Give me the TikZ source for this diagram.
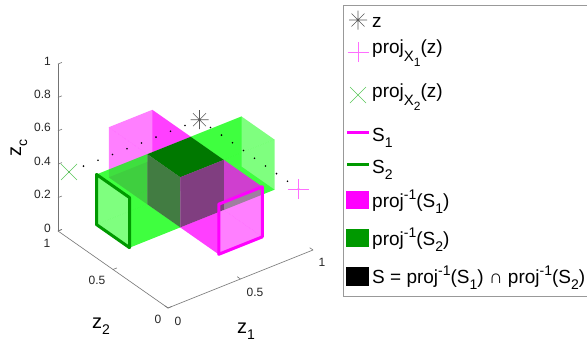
\documentclass[tikz,border=0pt]{standalone}
\usepackage{fontspec}
\setmainfont{Liberation Sans}
\definecolor{mag}{RGB}{255,0,255}
\definecolor{grn}{RGB}{0,255,0}
\definecolor{dgrn}{RGB}{0,153,0}
\definecolor{stop}{RGB}{0,120,0}
\definecolor{sleft}{RGB}{66,124,66}
\definecolor{sright}{RGB}{128,62,128}
\definecolor{xgrn}{RGB}{90,200,90}
\definecolor{pmag}{RGB}{255,110,255}
\newcommand{\mysub}[1]{\raisebox{-6pt}{\fontsize{14}{14}\selectfont #1}}
\newcommand{\mysubx}[1]{\raisebox{-8pt}{\fontsize{15}{15}\selectfont #1}}
\newcommand{\mysubsub}[1]{\raisebox{-5pt}{\fontsize{12}{12}\selectfont #1}}
\newcommand{\mysup}[1]{\raisebox{8pt}{\fontsize{14}{14}\selectfont #1}}
\newcommand{\axsub}[1]{\raisebox{-6pt}{\fontsize{14}{14}\selectfont #1}}
\begin{document}
\begin{tikzpicture}[x=1pt,y=-1pt,
  ticklab/.style={font=\fontsize{12}{14}\selectfont, text=black!85, inner sep=0pt},
  leglab/.style={font=\fontsize{19}{22}\selectfont, anchor=base west, inner sep=0pt},
  axlab/.style={font=\fontsize{20}{22}\selectfont, inner sep=0pt, anchor=base west},
  axline/.style={draw=black!55, line width=0.6pt},
  pf/.style={fill=mag, fill opacity=0.5},
  gf/.style={fill=grn, fill opacity=0.5},
  dotm/.style={fill=black},
  starm/.style={draw=black!65, line width=0.6pt},
  plusm/.style={draw=pmag, line width=0.7pt},
  crossm/.style={draw=xgrn, line width=0.5pt},
]
\useasboundingbox[fill=white] (0,0) rectangle (587,341);

\begin{scope}[shift={(168,308)}, x={(145pt,58pt)}, y={(-110pt,77pt)}, z={(0pt,167pt)}]
  % axes
  \draw[axline] (0,1,0) -- (0,1,1);
  \draw[axline] (0,0,0) -- (0,1,0);
  \draw[axline] (0,0,0) -- (1,0,0);
  \foreach \t in {0,0.2,0.4,0.6,0.8,1} \draw[axline] (0,1,\t) -- (0.027,1,\t);
  \foreach \t in {0,0.5,1} \draw[axline] (0,\t,0) -- (0.027,\t,0);
  \foreach \t in {0,0.5,1} \draw[axline] (\t,0,0) -- (\t,0.03,0);
  % faces, back to front
  \fill[pf] (.65,.65,.2) -- (.65,1,.2) -- (.65,1,.5) -- (.65,.65,.5) -- cycle;
  \fill[pf] (.35,.65,.2) -- (.65,.65,.2) -- (.65,1,.2) -- (.35,1,.2) -- cycle;
  \fill[gf] (.65,.65,.2) -- (1,.65,.2) -- (1,.65,.5) -- (.65,.65,.5) -- cycle;
  \fill[gf] (.65,.35,.2) -- (1,.35,.2) -- (1,.65,.2) -- (.65,.65,.2) -- cycle;
  \fill[pf] (.35,.65,.5) -- (.65,.65,.5) -- (.65,1,.5) -- (.35,1,.5) -- cycle;
  \fill[pf] (.35,.65,.2) -- (.35,1,.2) -- (.35,1,.5) -- (.35,.65,.5) -- cycle;
  \fill[gf] (.65,.35,.5) -- (1,.35,.5) -- (1,.65,.5) -- (.65,.65,.5) -- cycle;
  \fill[gf] (.65,.35,.2) -- (1,.35,.2) -- (1,.35,.5) -- (.65,.35,.5) -- cycle;
  \fill[gf] (0,.65,.2) -- (.35,.65,.2) -- (.35,.65,.5) -- (0,.65,.5) -- cycle;
  \fill[gf] (0,.35,.2) -- (.35,.35,.2) -- (.35,.65,.2) -- (0,.65,.2) -- cycle;
  \fill[pf] (.65,0,.2) -- (.65,.35,.2) -- (.65,.35,.5) -- (.65,0,.5) -- cycle;
  \fill[pf] (.35,0,.2) -- (.65,0,.2) -- (.65,.35,.2) -- (.35,.35,.2) -- cycle;
  \fill[gf] (0,.35,.5) -- (.35,.35,.5) -- (.35,.65,.5) -- (0,.65,.5) -- cycle;
  \fill[gf] (0,.35,.2) -- (.35,.35,.2) -- (.35,.35,.5) -- (0,.35,.5) -- cycle;
  \fill[pf] (.35,0,.5) -- (.65,0,.5) -- (.65,.35,.5) -- (.35,.35,.5) -- cycle;
  \fill[pf] (.35,0,.2) -- (.35,.35,.2) -- (.35,.35,.5) -- (.35,0,.5) -- cycle;
  % intersection S
  \fill[stop] (.35,.35,.5) -- (.65,.35,.5) -- (.65,.65,.5) -- (.35,.65,.5) -- cycle;
  \fill[sleft] (.35,.35,.2) -- (.35,.65,.2) -- (.35,.65,.5) -- (.35,.35,.5) -- cycle;
  \fill[sright] (.35,.35,.2) -- (.65,.35,.2) -- (.65,.35,.5) -- (.35,.35,.5) -- cycle;
  % outlines S1, S2
  \draw[dgrn, line width=3pt, line join=round] (0,.35,.2) -- (0,.65,.2) -- (0,.65,.5) -- (0,.35,.5) -- cycle;
  \draw[mag, line width=3pt, line join=round] (.35,0,.2) -- (.65,0,.2) -- (.65,0,.5) -- (.35,0,.5) -- cycle;
  % points
  \coordinate (zp) at (.9,.9,.4);
  \coordinate (p1) at (.9,0,.4);
  \coordinate (p2) at (0,.9,.4);
  \foreach \t in {0,1,...,9} {
    \coordinate (da\t) at (\t/10,.9,.4);
    \coordinate (db\t) at (.9,\t/10,.4);
  }
\end{scope}

\foreach \t in {0,1,...,9} {
  \fill[dotm] (da\t) circle[radius=0.9];
  \fill[dotm] (db\t) circle[radius=0.9];
}
\begin{scope}[shift={(zp)}]
  \draw[starm] (-9,0) -- (9,0) (0,-9.5) -- (0,9.5) (-6.5,-6.5) -- (6.5,6.5) (-6.5,6.5) -- (6.5,-6.5);
\end{scope}
\begin{scope}[shift={(p1)}]
  \draw[plusm] (-10.5,0) -- (10.5,0) (0,-10) -- (0,10);
\end{scope}
\begin{scope}[shift={(p2)}]
  \draw[crossm] (-8,-8) -- (8,8) (-8,8) -- (8,-8);
\end{scope}

% tick labels
\node[ticklab, anchor=east] (t0) at (51,228) {0};
\node[ticklab, anchor=east] (t2) at (51,194.6) {0.2};
\node[ticklab, anchor=east] (t4) at (51,161.2) {0.4};
\node[ticklab, anchor=east] (t6) at (51,127.8) {0.6};
\node[ticklab, anchor=east] (t8) at (51,94.4) {0.8};
\node[ticklab, anchor=east] (t10) at (51,61) {1};
\node[ticklab] (y0) at (158,319) {0};
\node[ticklab] (y5) at (97,280) {0.5};
\node[ticklab] (y10) at (47,243) {1};
\node[ticklab] (x0) at (178,321) {0};
\node[ticklab] (x5) at (255,292) {0.5};
\node[ticklab] (x10) at (322,262) {1};

% axis labels
\node[axlab, rotate=90] (zc) at (21,157) {z\axsub{c}};
\node[axlab] (z2) at (92,328) {z\axsub{2}};
\node[axlab] (z1) at (237,333) {z\axsub{1}};

% legend
\draw[draw=black!40, line width=0.8pt, fill=white] (343,5) rectangle (595,296);
\begin{scope}[shift={(358,20)}]
  \draw[starm] (-9,0) -- (9,0) (0,-9.5) -- (0,9.5) (-6.5,-6.5) -- (6.5,6.5) (-6.5,6.5) -- (6.5,-6.5);
\end{scope}
\begin{scope}[shift={(358,52)}]
  \draw[plusm] (-10.5,0) -- (10.5,0) (0,-10) -- (0,10);
\end{scope}
\begin{scope}[shift={(358,95)}]
  \draw[crossm] (-8,-8) -- (8,8) (-8,8) -- (8,-8);
\end{scope}
\draw[mag, line width=3pt] (347,132) -- (369,132);
\draw[dgrn, line width=3pt] (347,164) -- (369,164);
\fill[mag] (346,191) rectangle (369,209);
\fill[dgrn] (346,229) rectangle (369,247);
\fill[black] (346,267) rectangle (369,286);

\node[leglab] (l1) at (372,27) {z};
\node[leglab] (l2) at (372,53.5) {proj\mysubx{X\mysubsub{1}}(z)};
\node[leglab] (l3) at (372,97) {proj\mysubx{X\mysubsub{2}}(z)};
\node[leglab] (l4) at (372,141.5) {S\mysub{1}};
\node[leglab] (l5) at (372,173.5) {S\mysub{2}};
\node[leglab] (l6) at (372,207.5) {proj\mysup{-1}(S\mysub{1})};
\node[leglab] (l7) at (372,245.5) {proj\mysup{-1}(S\mysub{2})};
\node[leglab] (l8) at (372,283) {S = proj\mysup{-1}(S\mysub{1}) ∩ proj\mysup{-1}(S\mysub{2})};
\end{tikzpicture}
\end{document}
